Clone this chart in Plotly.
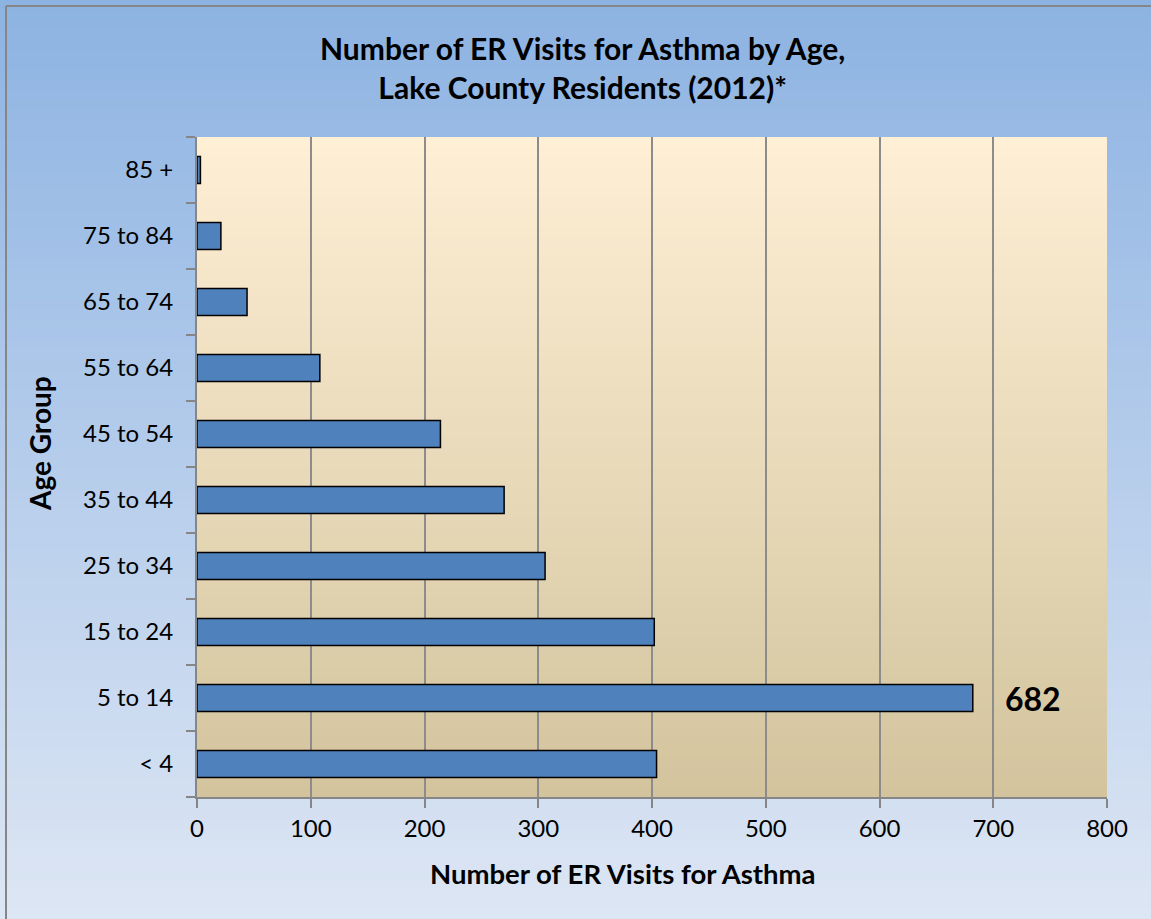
import plotly.graph_objects as go

categories = ["< 4", "5 to 14", "15 to 24", "25 to 34", "35 to 44",
              "45 to 54", "55 to 64", "65 to 74", "75 to 84", "85 +"]
visits = [404, 682, 402, 306, 270, 214, 108, 44, 21, 3]
x_ticks = [0, 100, 200, 300, 400, 500, 600, 700, 800]
highlight_label = "682"
highlight_category = "5 to 14"

W, H = 1151, 919
L, R, T, B = 197, 44, 137, 122
pw, ph = W - L - R, H - T - B

def px_to_paper_x(px):
    return (px - L) / pw

def px_to_paper_y(py):
    return (H - B - py) / ph

def lerp(c1, c2, t):
    return "rgb(%d,%d,%d)" % tuple(round(a + (b - a) * t) for a, b in zip(c1, c2))

shapes = []
# outer background gradient
outer_top, outer_bot = (141, 179, 226), (221, 230, 244)
n = 92
for i in range(n):
    y0 = H * i / n
    y1 = H * (i + 1) / n + 1
    shapes.append(dict(type="rect", xref="paper", yref="paper", layer="below",
                       x0=px_to_paper_x(0), x1=px_to_paper_x(W),
                       y0=px_to_paper_y(y1), y1=px_to_paper_y(y0),
                       line=dict(width=0), fillcolor=lerp(outer_top, outer_bot, i / (n - 1))))
# chart border (top and left visible)
shapes.append(dict(type="line", xref="paper", yref="paper", layer="below",
                   x0=px_to_paper_x(6), x1=px_to_paper_x(W + 5),
                   y0=px_to_paper_y(6), y1=px_to_paper_y(6),
                   line=dict(color="#868686", width=2)))
shapes.append(dict(type="line", xref="paper", yref="paper", layer="below",
                   x0=px_to_paper_x(6), x1=px_to_paper_x(6),
                   y0=px_to_paper_y(6), y1=px_to_paper_y(H + 5),
                   line=dict(color="#868686", width=2)))
# plot-area gradient
in_top, in_bot = (254, 239, 213), (211, 196, 158)
m = 66
for i in range(m):
    y0 = i / m
    y1 = (i + 1) / m
    shapes.append(dict(type="rect", xref="paper", yref="paper", layer="below",
                       x0=0, x1=1, y0=1 - y1 - 0.002, y1=1 - y0,
                       line=dict(width=0), fillcolor=lerp(in_top, in_bot, i / (m - 1))))

fig = go.Figure()
fig.add_trace(go.Bar(
    x=visits, y=categories, orientation="h",
    marker=dict(color="#4F81BD", line=dict(color="#000000", width=1.5)),
    hoverinfo="x+y",
))

fig.add_annotation(x=735, y=highlight_category, xref="x", yref="y",
                   text="<b>%s</b>" % highlight_label, showarrow=False,
                   font=dict(family="Lato", size=32, color="#000000"))
# axis titles
fig.add_annotation(x=px_to_paper_x(623), y=px_to_paper_y(873), xref="paper", yref="paper",
                   text="<b>Number of ER Visits for Asthma</b>", showarrow=False,
                   xanchor="center", yanchor="middle",
                   font=dict(family="Lato", size=27.5, color="#000000"))
fig.add_annotation(x=px_to_paper_x(40), y=px_to_paper_y(444), xref="paper", yref="paper",
                   text="<b>Age Group</b>", showarrow=False, textangle=-90,
                   xanchor="center", yanchor="middle",
                   font=dict(family="Lato", size=28, color="#000000"))
# chart title
fig.add_annotation(x=px_to_paper_x(582), y=px_to_paper_y(67), xref="paper", yref="paper",
                   text="<b>Number of ER Visits for Asthma by Age,<br>Lake County Residents (2012)*</b>",
                   showarrow=False, xanchor="center", yanchor="middle", align="center",
                   font=dict(family="Lato", size=30, color="#000000"))

fig.update_layout(
    width=W, height=H,
    margin=dict(l=L, r=R, t=T, b=B, pad=0),
    paper_bgcolor="rgba(0,0,0,0)",
    plot_bgcolor="rgba(0,0,0,0)",
    shapes=shapes,
    bargap=0.59,
    showlegend=False,
    font=dict(family="Lato", color="#000000"),
    xaxis=dict(range=[0, 800], tickvals=x_ticks, ticktext=[str(v) for v in x_ticks],
               showgrid=True, gridcolor="#8C8C8C", gridwidth=2,
               showline=True, linecolor="#868686", linewidth=2,
               ticks="outside", ticklen=9, tickcolor="#868686", tickwidth=1.5,
               tickfont=dict(family="Lato", size=24, color="#000000"),
               zeroline=False, fixedrange=True),
    yaxis=dict(categoryorder="array", categoryarray=categories,
               showgrid=False, showline=True, linecolor="#868686", linewidth=2,
               ticks="outside", tickson="boundaries", ticklen=9, tickcolor="#868686",
               tickwidth=1.5,
               tickfont=dict(family="Lato", size=24, color="#000000"),
               ticklabelstandoff=17, fixedrange=True),
)

fig.write_html("out.html", config={"displayModeBar": False},
               post_script="document.body.style.margin='0';document.body.style.overflow='hidden';")
